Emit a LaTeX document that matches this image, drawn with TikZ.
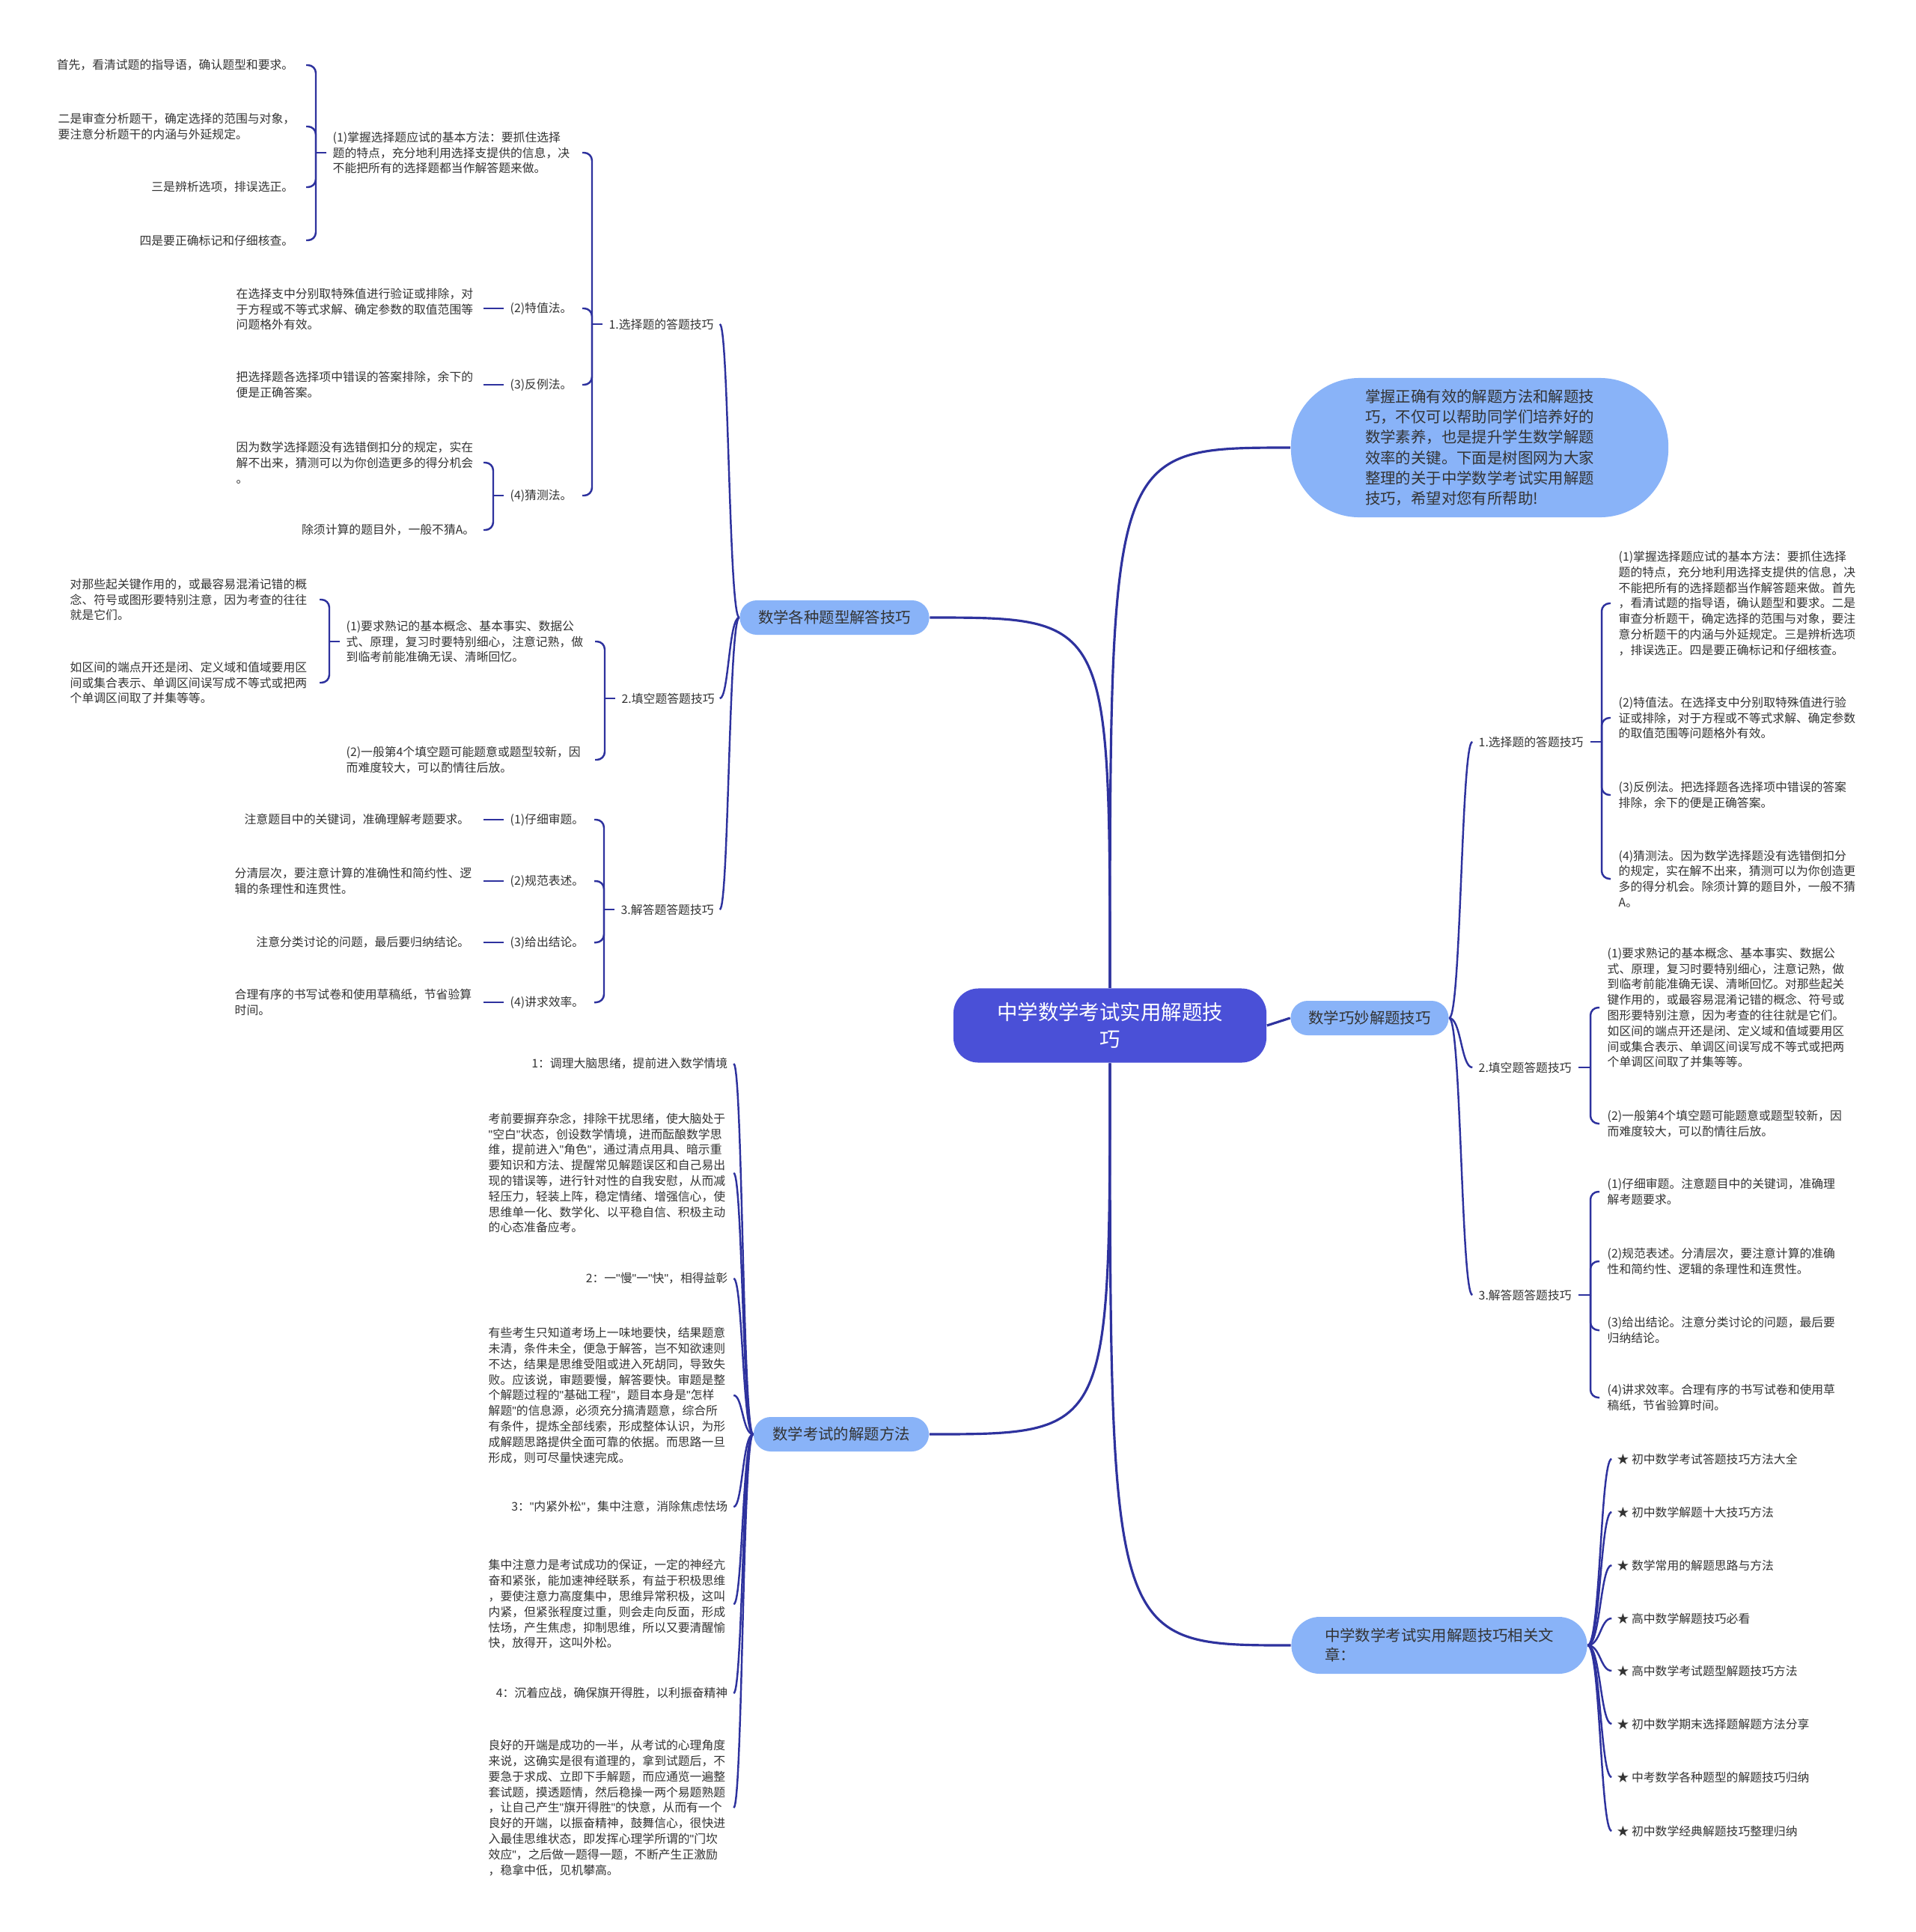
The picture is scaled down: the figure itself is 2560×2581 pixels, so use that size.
\documentclass[tikz,border=0pt]{standalone}
\usepackage{fontspec}
\setmainfont{Noto Sans CJK SC}
\newfontfamily\qfont{Liberation Sans}
\usepackage{tikz}
\usetikzlibrary{calc, positioning}
\definecolor{linkblue}{RGB}{46,50,158}
\definecolor{pillblue}{RGB}{137,179,248}
\definecolor{rootblue}{RGB}{74,80,215}
\definecolor{textgray}{RGB}{51,51,51}
\newcommand{\leafsize}{\fontsize{4.5}{5.92}\selectfont}
\newcommand{\pillsize}{\fontsize{5.8}{7.7}\selectfont}
\newcommand{\dq}{{\qfont"}}
\tikzset{
	link/.style={draw=linkblue, line width=0.7pt},
	trunk/.style={draw=linkblue, line width=0.9pt},
	leaf/.style={inner sep=0pt, text=textgray, font=\leafsize, align=left},
	pill/.style={fill=pillblue, text=textgray, font=\pillsize, rounded corners=6.5pt, minimum height=0.46cm, inner sep=0pt},
	rootbox/.style={fill=rootblue, text=white, font=\fontsize{7.8}{10.3}\selectfont, align=center, rounded corners=9.5pt, minimum width=4.18cm, minimum height=0.99cm, inner sep=0pt},
	bubble/.style={fill=pillblue, text=textgray, font=\fontsize{5.8}{7.74}\selectfont, align=left, rounded corners=26pt, minimum width=5.04cm, minimum height=1.86cm, inner sep=0pt}
}

\begin{document}
\begin{tikzpicture}[x=0.01cm, y=-0.01cm]
	\fill[white] (0,0) rectangle (2560,2581);
	\useasboundingbox (0,0) rectangle (2560,2581);

	% centre and main branches
	\node[rootbox] (root) at (1483,1370) {中学数学考试实用解题技\\巧};
	\node[pill, minimum width=2.53cm] (p1) at (1115,825) {数学各种题型解答技巧};
	\node[pill, minimum width=2.34cm] (p2) at (1124,1916) {数学考试的解题方法};
	\node[bubble] (intro) at (1977,598) {掌握正确有效的解题方法和解题技\\巧，不仅可以帮助同学们培养好的\\数学素养，也是提升学生数学解题\\效率的关键。下面是树图网为大家\\整理的关于中学数学考试实用解题\\技巧，希望对您有所帮助!};
	\node[pill, minimum width=2.11cm] (p3) at (1830,1360) {数学巧妙解题技巧};
	\node[pill, align=left, rounded corners=10.8pt, minimum width=3.95cm, minimum height=0.76cm, font=\fontsize{5.8}{7.4}\selectfont] (p4) at (1923,2198) {中学数学考试实用解题技巧相关文\\章：};

	\draw[trunk] (root.north) .. controls (root.north |- p1.east) .. (p1.east);
	\draw[trunk] (root.north) .. controls (root.north |- intro.west) .. (intro.west);
	\draw[trunk] (root.south) .. controls (root.south |- p2.east) .. (p2.east);
	\draw[trunk] (root.south) .. controls (root.south |- p4.west) .. (p4.west);
	\draw[trunk] (root.east) -- (p3.west);

	% left: question types
	\node[leaf, anchor=west] (a1) at (813,433) {1.选择题的答题技巧};
	\node[leaf, anchor=west] (a2) at (830,933) {2.填空题答题技巧};
	\node[leaf, anchor=west] (a3) at (829,1215) {3.解答题答题技巧};
	\foreach \c in {a1,a2,a3}
		\draw[link] (p1.west) .. controls ($(p1.west)+(-14,0)$) and ($(p1.west |- \c.east)+(-14,0)$) .. ($(p1.west |- \c.east)+(-26,0)$);

	\node[leaf, anchor=west] (b1) at (444,204) {(1)掌握选择题应试的基本方法：要抓住选择\\题的特点，充分地利用选择支提供的信息，决\\不能把所有的选择题都当作解答题来做。};
	\node[leaf, anchor=west] (b2) at (681,412) {(2)特值法。};
	\node[leaf, anchor=west] (b3) at (681,514) {(3)反例法。};
	\node[leaf, anchor=west] (b4) at (681,662) {(4)猜测法。};
	\draw[link] ($(a1.west)+(-8,0)$) -- ($(a1.west)+(-22,0)$);
	\foreach \c in {b1,b2,b3,b4}
		\draw[link, rounded corners=3pt] ($(a1.west)+(-22,0)$) |- ($(a1.west |- \c.west)+(-35,0)$);

	\node[leaf, anchor=east] (c1) at (393,87) {首先，看清试题的指导语，确认题型和要求。};
	\node[leaf, anchor=west] (c2) at (77,169) {二是审查分析题干，确定选择的范围与对象，\\要注意分析题干的内涵与外延规定。};
	\node[leaf, anchor=east] (c3) at (393,250) {三是辨析选项，排误选正。};
	\node[leaf, anchor=east] (c4) at (393,321) {四是要正确标记和仔细核查。};
	\draw[link] ($(b1.west)+(-8,0)$) -- ($(b1.west)+(-22,0)$);
	\foreach \c in {c1,c2,c3,c4}
		\draw[link, rounded corners=3pt] ($(b1.west)+(-22,0)$) |- ($(b1.west |- \c.west)+(-35,0)$);

	\node[leaf, anchor=west] (c5) at (315,413) {在选择支中分别取特殊值进行验证或排除，对\\于方程或不等式求解、确定参数的取值范围等\\问题格外有效。};
	\draw[link] (b2.west) ++(-8,0) -- ($(b2.west)+(-35,0)$);
	\node[leaf, anchor=west] (c6) at (315,514) {把选择题各选择项中错误的答案排除，余下的\\便是正确答案。};
	\draw[link] (b3.west) ++(-8,0) -- ($(b3.west)+(-35,0)$);

	\node[leaf, anchor=west] (c7) at (315,618) {因为数学选择题没有选错倒扣分的规定，实在\\解不出来，猜测可以为你创造更多的得分机会\\。};
	\node[leaf, anchor=east] (c8) at (635,708) {除须计算的题目外，一般不猜A。};
	\draw[link] ($(b4.west)+(-8,0)$) -- ($(b4.west)+(-22,0)$);
	\foreach \c in {c7,c8}
		\draw[link, rounded corners=3pt] ($(b4.west)+(-22,0)$) |- ($(b4.west |- \c.west)+(-35,0)$);

	\node[leaf, anchor=west] (b5) at (462,857) {(1)要求熟记的基本概念、基本事实、数据公\\式、原理，复习时要特别细心，注意记熟，做\\到临考前能准确无误、清晰回忆。};
	\node[leaf, anchor=west] (b6) at (462,1015) {(2)一般第4个填空题可能题意或题型较新，因\\而难度较大，可以酌情往后放。};
	\draw[link] ($(a2.west)+(-8,0)$) -- ($(a2.west)+(-22,0)$);
	\foreach \c in {b5,b6}
		\draw[link, rounded corners=3pt] ($(a2.west)+(-22,0)$) |- ($(a2.west |- \c.west)+(-35,0)$);

	\node[leaf, anchor=west] (c9) at (93,801) {对那些起关键作用的，或最容易混淆记错的概\\念、符号或图形要特别注意，因为考查的往往\\就是它们。};
	\node[leaf, anchor=west] (c10) at (93,912) {如区间的端点开还是闭、定义域和值域要用区\\间或集合表示、单调区间误写成不等式或把两\\个单调区间取了并集等等。};
	\draw[link] ($(b5.west)+(-8,0)$) -- ($(b5.west)+(-22,0)$);
	\foreach \c in {c9,c10}
		\draw[link, rounded corners=3pt] ($(b5.west)+(-22,0)$) |- ($(b5.west |- \c.west)+(-35,0)$);

	\node[leaf, anchor=west] (b7) at (681,1095) {(1)仔细审题。};
	\node[leaf, anchor=west] (b8) at (681,1177) {(2)规范表述。};
	\node[leaf, anchor=west] (b9) at (681,1259) {(3)给出结论。};
	\node[leaf, anchor=west] (b10) at (681,1339) {(4)讲求效率。};
	\draw[link] ($(a3.west)+(-8,0)$) -- ($(a3.west)+(-22,0)$);
	\foreach \c in {b7,b8,b9,b10}
		\draw[link, rounded corners=3pt] ($(a3.west)+(-22,0)$) |- ($(a3.west |- \c.west)+(-35,0)$);

	\node[leaf, anchor=east] (c11) at (628,1095) {注意题目中的关键词，准确理解考题要求。};
	\node[leaf, anchor=west] (c12) at (313,1177) {分清层次，要注意计算的准确性和简约性、逻\\辑的条理性和连贯性。};
	\node[leaf, anchor=east] (c13) at (628,1259) {注意分类讨论的问题，最后要归纳结论。};
	\node[leaf, anchor=west] (c14) at (313,1339) {合理有序的书写试卷和使用草稿纸，节省验算\\时间。};
	\foreach \p in {b7,b8,b9,b10}
		\draw[link] (\p.west) ++(-8,0) -- ($(\p.west)+(-35,0)$);

	% left: exam methods
	\node[leaf, anchor=east] (d1) at (973,1421) {1：调理大脑思绪，提前进入数学情境};
	\node[leaf, anchor=west] (d2) at (652,1567) {考前要摒弃杂念，排除干扰思绪，使大脑处于\\\dq 空白\dq 状态，创设数学情境，进而酝酿数学思\\维，提前进入\dq 角色\dq ，通过清点用具、暗示重\\要知识和方法、提醒常见解题误区和自己易出\\现的错误等，进行针对性的自我安慰，从而减\\轻压力，轻装上阵，稳定情绪、增强信心，使\\思维单一化、数学化、以平稳自信、积极主动\\的心态准备应考。};
	\node[leaf, anchor=east] (d3) at (973,1708) {2：一\dq 慢\dq 一\dq 快\dq ，相得益彰};
	\node[leaf, anchor=west] (d4) at (652,1864) {有些考生只知道考场上一味地要快，结果题意\\未清，条件未全，便急于解答，岂不知欲速则\\不达，结果是思维受阻或进入死胡同，导致失\\败。应该说，审题要慢，解答要快。审题是整\\个解题过程的\dq 基础工程\dq ，题目本身是\dq 怎样\\解题\dq 的信息源，必须充分搞清题意，综合所\\有条件，提炼全部线索，形成整体认识，为形\\成解题思路提供全面可靠的依据。而思路一旦\\形成，则可尽量快速完成。};
	\node[leaf, anchor=east] (d5) at (973,2013) {3：\dq 内紧外松\dq ，集中注意，消除焦虑怯场};
	\node[leaf, anchor=west] (d6) at (652,2143) {集中注意力是考试成功的保证，一定的神经亢\\奋和紧张，能加速神经联系，有益于积极思维\\，要使注意力高度集中，思维异常积极，这叫\\内紧，但紧张程度过重，则会走向反面，形成\\怯场，产生焦虑，抑制思维，所以又要清醒愉\\快，放得开，这叫外松。};
	\node[leaf, anchor=east] (d7) at (973,2262) {4：沉着应战，确保旗开得胜，以利振奋精神};
	\node[leaf, anchor=west] (d8) at (652,2415) {良好的开端是成功的一半，从考试的心理角度\\来说，这确实是很有道理的，拿到试题后，不\\要急于求成、立即下手解题，而应通览一遍整\\套试题，摸透题情，然后稳操一两个易题熟题\\，让自己产生\dq 旗开得胜\dq 的快意，从而有一个\\良好的开端，以振奋精神，鼓舞信心，很快进\\入最佳思维状态，即发挥心理学所谓的\dq 门坎\\效应\dq ，之后做一题得一题，不断产生正激励\\，稳拿中低，见机攀高。};
	\foreach \c in {d1,d2,d3,d4,d5,d6,d7,d8}
		\draw[link] (p2.west) .. controls ($(p2.west)+(-14,0)$) and ($(p2.west |- \c.east)+(-14,0)$) .. ($(p2.west |- \c.east)+(-26,0)$);

	% right: clever techniques
	\node[leaf, anchor=west] (e1) at (1975,991) {1.选择题的答题技巧};
	\node[leaf, anchor=west] (e2) at (1975,1426) {2.填空题答题技巧};
	\node[leaf, anchor=west] (e3) at (1975,1730) {3.解答题答题技巧};
	\foreach \c in {e1,e2,e3}
		\draw[link] (p3.east) .. controls ($(p3.east)+(16,0)$) and ($(p3.east |- \c.west)+(16,0)$) .. ($(p3.east |- \c.west)+(31,0)$);

	\node[leaf, anchor=west] (f1) at (2162,806) {(1)掌握选择题应试的基本方法：要抓住选择\\题的特点，充分地利用选择支提供的信息，决\\不能把所有的选择题都当作解答题来做。首先\\，看清试题的指导语，确认题型和要求。二是\\审查分析题干，确定选择的范围与对象，要注\\意分析题干的内涵与外延规定。三是辨析选项\\，排误选正。四是要正确标记和仔细核查。};
	\node[leaf, anchor=west] (f2) at (2162,959) {(2)特值法。在选择支中分别取特殊值进行验\\证或排除，对于方程或不等式求解、确定参数\\的取值范围等问题格外有效。};
	\node[leaf, anchor=west] (f3) at (2162,1062) {(3)反例法。把选择题各选择项中错误的答案\\排除，余下的便是正确答案。};
	\node[leaf, anchor=west] (f4) at (2162,1174) {(4)猜测法。因为数学选择题没有选错倒扣分\\的规定，实在解不出来，猜测可以为你创造更\\多的得分机会。除须计算的题目外，一般不猜\\A。};
	\draw[link] ($(e1.east)+(9,0)$) -- ($(e1.east -| f1.west)+(-22,0)$);
	\foreach \c in {f1,f2,f3,f4}
		\draw[link, rounded corners=3pt] ($(e1.east -| f1.west)+(-22,0)$) |- ($(\c.west)+(-10,0)$);

	\node[leaf, anchor=west] (f5) at (2147,1346) {(1)要求熟记的基本概念、基本事实、数据公\\式、原理，复习时要特别细心，注意记熟，做\\到临考前能准确无误、清晰回忆。对那些起关\\键作用的，或最容易混淆记错的概念、符号或\\图形要特别注意，因为考查的往往就是它们。\\如区间的端点开还是闭、定义域和值域要用区\\间或集合表示、单调区间误写成不等式或把两\\个单调区间取了并集等等。};
	\node[leaf, anchor=west] (f6) at (2147,1501) {(2)一般第4个填空题可能题意或题型较新，因\\而难度较大，可以酌情往后放。};
	\draw[link] ($(e2.east)+(9,0)$) -- ($(e2.east -| f5.west)+(-22,0)$);
	\foreach \c in {f5,f6}
		\draw[link, rounded corners=3pt] ($(e2.east -| f5.west)+(-22,0)$) |- ($(\c.west)+(-10,0)$);

	\node[leaf, anchor=west] (f7) at (2147,1592) {(1)仔细审题。注意题目中的关键词，准确理\\解考题要求。};
	\node[leaf, anchor=west] (f8) at (2147,1685) {(2)规范表述。分清层次，要注意计算的准确\\性和简约性、逻辑的条理性和连贯性。};
	\node[leaf, anchor=west] (f9) at (2147,1777) {(3)给出结论。注意分类讨论的问题，最后要\\归纳结论。};
	\node[leaf, anchor=west] (f10) at (2147,1867) {(4)讲求效率。合理有序的书写试卷和使用草\\稿纸，节省验算时间。};
	\draw[link] ($(e3.east)+(9,0)$) -- ($(e3.east -| f7.west)+(-22,0)$);
	\foreach \c in {f7,f8,f9,f10}
		\draw[link, rounded corners=3pt] ($(e3.east -| f7.west)+(-22,0)$) |- ($(\c.west)+(-10,0)$);

	% right: related articles
	\node[leaf, anchor=west] (g1) at (2160,1949) {★ 初中数学考试答题技巧方法大全};
	\node[leaf, anchor=west] (g2) at (2160,2020) {★ 初中数学解题十大技巧方法};
	\node[leaf, anchor=west] (g3) at (2160,2091) {★ 数学常用的解题思路与方法};
	\node[leaf, anchor=west] (g4) at (2160,2162) {★ 高中数学解题技巧必看};
	\node[leaf, anchor=west] (g5) at (2160,2232) {★ 高中数学考试题型解题技巧方法};
	\node[leaf, anchor=west] (g6) at (2160,2303) {★ 初中数学期末选择题解题方法分享};
	\node[leaf, anchor=west] (g7) at (2160,2374) {★ 中考数学各种题型的解题技巧归纳};
	\node[leaf, anchor=west] (g8) at (2160,2446) {★ 初中数学经典解题技巧整理归纳};
	\foreach \c in {g1,g2,g3,g4,g5,g6,g7,g8}
		\draw[link] (p4.east) .. controls ($(p4.east)+(17,0)$) and ($(p4.east |- \c.west)+(17,0)$) .. ($(p4.east |- \c.west)+(32,0)$);
\end{tikzpicture}
\end{document}
